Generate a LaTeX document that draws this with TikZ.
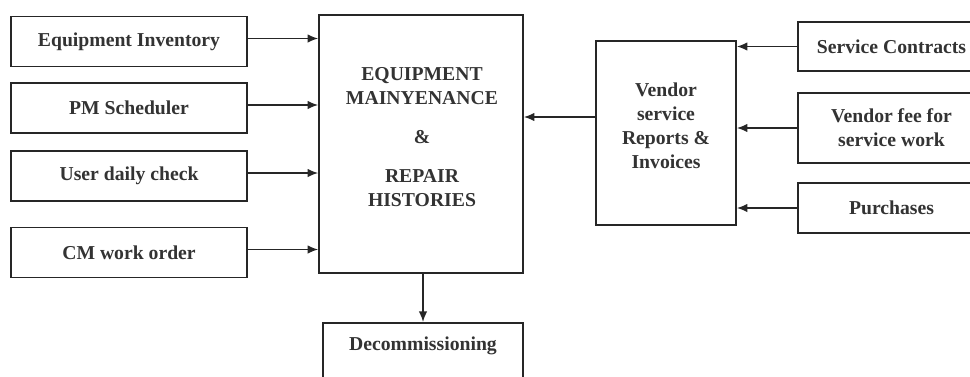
\documentclass[tikz,border=0pt]{standalone}
\usepackage{fontspec}
\setmainfont{Liberation Serif}
\usetikzlibrary{calc,arrows.meta}
\tikzset{box/.style={
            draw=black!85,
            line width=1.1pt,
            fill=white,
            text=black!80,
            font=\bfseries\fontsize{14}{17}\selectfont,
            align=center,
            inner sep=0pt,
            minimum width=5.9cm,
            minimum height=1.25cm
        },
        bigbox/.style={
            box,
            minimum width=5.1cm,
            minimum height=6.45cm
        },
        vendorbox/.style={
            box,
            minimum width=3.5cm,
            minimum height=4.6cm
        },
        sidebox/.style={
            box,
            minimum width=4.675cm
        },
        boxtext/.style={
            text=black!80,
            font=\bfseries\fontsize{14}{17}\selectfont,
            align=center
        },
        link/.style={
            ->,
            line width=1.1pt,
            draw=black!85
        }
    }

\begin{document}
\begin{tikzpicture}
        [x=0.025cm,y=-0.025cm,>={Latex[length=7.5pt,width=6pt]}]

        \useasboundingbox (0,0) rectangle (970,376);
        \clip (0,0) rectangle (970,376);

        % inputs on the left
        \node[box] (inv) at (129,41.5) {Equipment Inventory};
        \node[box] (pm) at (129,108) {PM Scheduler};
        \node[box] (user) at (129,176) {User daily check};
        \node[box] (cm) at (129,252.5) {CM work order};

        \node[bigbox] (main) at (421,144) {};
        \node[boxtext] (maintext) at ($(main)+(1,-7)$) {EQUIPMENT\\MAINYENANCE\\[11pt] \&\\[11pt] REPAIR\\HISTORIES};

        \node[vendorbox] (ven) at (666,133) {};
        \node[boxtext] (ventext) at ($(ven)+(0,-7)$) {Vendor\\service\\Reports \&\\Invoices};

        % inputs on the right
        \node[sidebox,minimum height=1.225cm] (sc) at (891.5,46.5) {Service Contracts};
        \node[sidebox,minimum height=1.75cm] (fee) at (891.5,128) {Vendor fee for\\service work};
        \node[sidebox] (pur) at (891.5,208) {Purchases};

        \node[box,minimum width=5cm,minimum height=0pt,text height=19.5pt,text depth=1.3cm,anchor=north] (dec) at (423,322) {Decommissioning};

        \foreach \n in {inv,pm,user,cm}
            \draw[link] ($(\n.east)+(0,-3)$) coordinate (s) -- (s -| main.west);
        \foreach \n in {sc,fee,pur}
            \draw[link] (\n.west) -- (\n.west -| ven.east);

        \draw[link] ($(ven.west)+(0,-16)$) coordinate (v) -- (v -| main.east);
        \draw[link] (main.south -| dec.north) -- (dec.north);

    \end{tikzpicture}
\end{document}
